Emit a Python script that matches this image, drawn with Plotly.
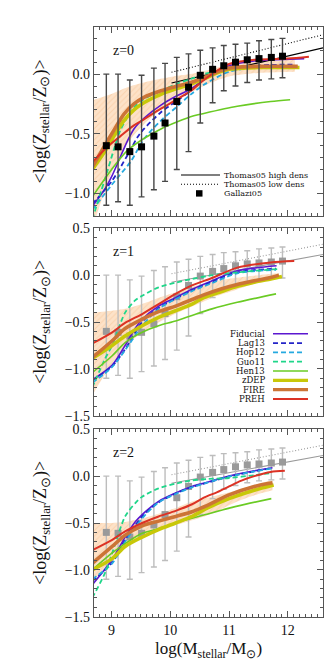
import plotly.graph_objects as go

# ---- observations ----
# Gallazzi05: median and 16/84 percentiles
gal_m = [8.91, 9.11, 9.31, 9.51, 9.72, 9.91, 10.11, 10.31, 10.51, 10.72, 10.91, 11.11, 11.31, 11.51, 11.72, 11.91]
gal_z = [-0.60, -0.61, -0.65, -0.61, -0.52, -0.41, -0.23, -0.11, -0.01, 0.04, 0.07, 0.10, 0.12, 0.13, 0.14, 0.15]
gal_lo = [-1.10, -1.07, -1.10, -1.03, -0.97, -0.90, -0.80, -0.65, -0.41, -0.24, -0.14, -0.10, -0.07, -0.05, -0.04, -0.03]
gal_hi = [0.00, 0.00, -0.05, -0.01, 0.05, 0.09, 0.14, 0.17, 0.20, 0.22, 0.24, 0.25, 0.26, 0.28, 0.29, 0.30]

# Thomas05 relations
tho_m = [10.02, 12.6]
tho_high = [-0.075, 0.22]
tho_low = [0.015, 0.33]

# ---- models, z=0 ----
fid0_m = [8.67, 8.89, 9.0, 9.27, 9.38, 9.55, 9.84, 10.12, 10.35, 10.57, 10.8, 11.0, 11.43, 11.8, 12.28]
fid0_z = [-1.11, -0.96, -0.86, -0.56, -0.46, -0.37, -0.26, -0.18, -0.125, -0.05, 0.02, 0.07, 0.11, 0.12, 0.13]
lag0_m = [8.67, 9.0, 9.27, 9.44, 9.55, 9.84, 10.12, 10.35, 10.57, 11.0, 11.43, 11.8, 12.08]
lag0_z = [-1.09, -0.9, -0.68, -0.53, -0.46, -0.32, -0.22, -0.14, -0.045, 0.045, 0.07, 0.078, 0.08]
hop0_m = [8.67, 9.0, 9.33, 9.55, 9.84, 10.12, 10.35, 10.57, 11.0, 11.43, 11.95]
hop0_z = [-1.14, -0.93, -0.73, -0.545, -0.39, -0.27, -0.17, -0.09, 0.02, 0.053, 0.06]
guo0_m = [8.67, 8.93, 9.04, 9.15, 9.27, 9.38, 9.55, 9.84, 10.12, 10.35, 10.57, 11.0, 11.5, 12.0]
guo0_z = [-1.22, -0.81, -0.63, -0.47, -0.36, -0.28, -0.21, -0.14, -0.08, -0.04, 0.0, 0.04, 0.055, 0.06]
hen0_m = [8.67, 9.0, 9.27, 9.55, 9.84, 10.12, 10.4, 10.57, 11.14, 11.71, 12.04]
hen0_z = [-1.03, -0.8, -0.64, -0.54, -0.46, -0.4, -0.35, -0.33, -0.27, -0.23, -0.215]
zdep0_m = [8.67, 8.87, 9.04, 9.21, 9.38, 9.55, 9.84, 10.12, 10.35, 10.57, 10.8, 11.0, 11.5, 12.2]
zdep0_z = [-0.8, -0.66, -0.52, -0.39, -0.30, -0.24, -0.17, -0.12, -0.084, -0.04, 0.01, 0.04, 0.055, 0.055]
fire0_m = [8.67, 8.87, 9.04, 9.21, 9.38, 9.55, 9.84, 10.12, 10.35, 10.57, 10.8, 11.0, 11.5, 12.17]
fire0_z = [-0.78, -0.61, -0.47, -0.335, -0.25, -0.195, -0.14, -0.1, -0.07, -0.03, 0.02, 0.05, 0.065, 0.065]
preh0_m = [8.67, 8.93, 9.15, 9.38, 9.55, 9.84, 10.12, 10.35, 10.57, 10.8, 11.0, 11.43, 12.0, 12.36]
preh0_z = [-0.74, -0.61, -0.52, -0.43, -0.38, -0.29, -0.21, -0.14, -0.05, 0.03, 0.085, 0.12, 0.13, 0.145]
band0_m = [8.67, 8.98, 9.27, 9.55, 9.84, 10.12, 10.4, 10.7, 11.0, 11.5, 12.12]
band0_hi = [-0.22, -0.17, -0.11, -0.07, -0.04, -0.014, 0.006, 0.04, 0.08, 0.11, 0.12]
band0_lo = [-1.3, -0.85, -0.58, -0.42, -0.3, -0.21, -0.14, -0.07, -0.02, 0.01, 0.02]

# ---- models, z=1 ----
fid1_m = [8.67, 9.01, 9.23, 9.4, 9.52, 9.8, 10.09, 10.37, 10.71, 11.14, 11.81]
fid1_z = [-1.12, -0.96, -0.75, -0.57, -0.47, -0.33, -0.24, -0.15, -0.06, 0.046, 0.1]
lag1_m = [8.67, 9.01, 9.23, 9.52, 9.8, 10.09, 10.37, 10.71, 11.14, 11.8]
lag1_z = [-1.12, -0.97, -0.79, -0.5, -0.35, -0.25, -0.16, -0.07, 0.03, 0.07]
hop1_m = [8.67, 9.01, 9.23, 9.52, 9.8, 10.09, 10.37, 10.71, 11.14, 11.8]
hop1_z = [-1.15, -0.98, -0.8, -0.54, -0.36, -0.255, -0.17, -0.085, 0.02, 0.057]
guo1_m = [8.67, 8.89, 9.01, 9.23, 9.4, 9.52, 9.8, 10.09, 10.37, 10.65, 11.14, 11.82]
guo1_z = [-1.2, -0.89, -0.75, -0.4, -0.27, -0.22, -0.13, -0.08, -0.04, -0.007, 0.03, 0.065]
hen1_m = [8.67, 9.01, 9.23, 9.52, 9.8, 10.09, 10.37, 10.71, 11.14, 11.8]
hen1_z = [-1.04, -0.86, -0.72, -0.61, -0.54, -0.49, -0.43, -0.36, -0.29, -0.2]
zdep1_m = [8.67, 9.01, 9.23, 9.52, 9.8, 10.09, 10.37, 10.57, 10.85, 11.14, 11.43, 11.71, 11.9]
zdep1_z = [-0.89, -0.75, -0.65, -0.54, -0.45, -0.38, -0.31, -0.24, -0.18, -0.12, -0.075, -0.04, -0.015]
fire1_m = [8.67, 9.01, 9.23, 9.52, 9.8, 10.09, 10.37, 10.57, 10.85, 11.14, 11.43, 11.71, 11.85]
fire1_z = [-0.88, -0.70, -0.57, -0.47, -0.39, -0.33, -0.26, -0.21, -0.15, -0.1, -0.06, -0.025, 0.0]
preh1_m = [8.67, 9.01, 9.23, 9.52, 9.8, 10.09, 10.37, 10.71, 11.14, 11.71, 12.11]
preh1_z = [-0.73, -0.61, -0.51, -0.415, -0.31, -0.2, -0.11, -0.03, 0.08, 0.135, 0.15]
band1_m = [8.67, 9.0, 9.3, 9.6, 9.9, 10.2, 10.5, 10.8, 11.1, 11.5, 11.85]
band1_hi = [-0.4, -0.38, -0.35, -0.29, -0.22, -0.16, -0.1, -0.06, -0.03, 0.0, 0.02]
band1_lo = [-1.28, -0.95, -0.72, -0.58, -0.47, -0.38, -0.3, -0.22, -0.16, -0.08, -0.04]

# ---- models, z=2 ----
fid2_m = [8.67, 9.01, 9.23, 9.4, 9.52, 9.8, 10.09, 10.37, 10.6, 11.0, 11.43, 11.74]
fid2_z = [-1.16, -0.89, -0.65, -0.49, -0.41, -0.27, -0.18, -0.11, -0.07, 0.0, 0.057, 0.09]
lag2_m = [8.67, 9.01, 9.23, 9.52, 9.8, 10.09, 10.37, 10.6, 11.0, 11.43, 11.72]
lag2_z = [-1.12, -0.92, -0.68, -0.43, -0.28, -0.185, -0.115, -0.075, -0.005, 0.05, 0.085]
hop2_m = [8.67, 9.01, 9.23, 9.52, 9.8, 10.09, 10.37, 10.6, 11.0, 11.43, 11.72]
hop2_z = [-1.1, -0.93, -0.70, -0.45, -0.28, -0.19, -0.12, -0.075, -0.005, 0.05, 0.08]
guo2_m = [8.67, 8.89, 9.01, 9.23, 9.4, 9.52, 9.8, 10.09, 10.37, 10.65, 11.0, 11.43, 11.74]
guo2_z = [-1.3, -1.03, -0.82, -0.43, -0.29, -0.22, -0.13, -0.08, -0.045, -0.03, -0.02, 0.01, 0.035]
hen2_m = [8.67, 9.01, 9.23, 9.52, 9.8, 10.09, 10.37, 10.6, 11.14, 11.72]
hen2_z = [-1.0, -0.82, -0.72, -0.61, -0.56, -0.5, -0.45, -0.41, -0.32, -0.24]
zdep2_m = [8.67, 9.01, 9.23, 9.52, 9.8, 10.09, 10.37, 10.6, 11.0, 11.43, 11.76]
zdep2_z = [-1.0, -0.88, -0.75, -0.65, -0.57, -0.5, -0.43, -0.35, -0.24, -0.15, -0.095]
fire2_m = [8.67, 9.01, 9.23, 9.52, 9.8, 10.09, 10.37, 10.6, 11.0, 11.43, 11.74]
fire2_z = [-0.93, -0.75, -0.63, -0.53, -0.48, -0.43, -0.38, -0.32, -0.2, -0.11, -0.07]
preh2_m = [8.67, 9.01, 9.23, 9.52, 9.8, 10.09, 10.37, 10.57, 10.8, 11.0, 11.2, 11.43, 11.71, 11.95]
preh2_z = [-0.79, -0.68, -0.59, -0.5, -0.43, -0.37, -0.3, -0.23, -0.17, -0.11, -0.05, 0.0, 0.045, 0.057]
band2_m = [8.67, 9.0, 9.23, 9.52, 9.8, 10.09, 10.37, 10.7, 11.14, 11.5, 11.74]
band2_hi = [-0.5, -0.5, -0.49, -0.45, -0.4, -0.34, -0.27, -0.22, -0.15, -0.08, -0.04]
band2_lo = [-1.14, -0.89, -0.75, -0.65, -0.57, -0.52, -0.47, -0.4, -0.27, -0.19, -0.15]

model_names = ["Fiducial", "Lag13", "Hop12", "Guo11", "Hen13", "zDEP", "FIRE", "PREH"]

# styles: color, width, dash
style = {
    "Fiducial": ("#5b17d0", 1.6, "solid"),
    "Lag13": ("#2424c8", 1.8, "5px,3px"),
    "Hop12": ("#25a9e0", 1.8, "5px,3px"),
    "Guo11": ("#1fd68a", 1.8, "5px,3px"),
    "Hen13": ("#6acb24", 1.6, "solid"),
    "zDEP": ("#c8c808", 3.6, "solid"),
    "FIRE": ("#cc7436", 3.6, "solid"),
    "PREH": ("#dc3224", 2.0, "solid"),
}
DOT = "1px,2px"

panels = [
    {"z": "z=0", "band": (band0_m, band0_lo, band0_hi),
     "curves": [(fid0_m, fid0_z), (lag0_m, lag0_z), (hop0_m, hop0_z), (guo0_m, guo0_z),
                (hen0_m, hen0_z), (zdep0_m, zdep0_z), (fire0_m, fire0_z), (preh0_m, preh0_z)]},
    {"z": "z=1", "band": (band1_m, band1_lo, band1_hi),
     "curves": [(fid1_m, fid1_z), (lag1_m, lag1_z), (hop1_m, hop1_z), (guo1_m, guo1_z),
                (hen1_m, hen1_z), (zdep1_m, zdep1_z), (fire1_m, fire1_z), (preh1_m, preh1_z)]},
    {"z": "z=2", "band": (band2_m, band2_lo, band2_hi),
     "curves": [(fid2_m, fid2_z), (lag2_m, lag2_z), (hop2_m, hop2_z), (guo2_m, guo2_z),
                (hen2_m, hen2_z), (zdep2_m, zdep2_z), (fire2_m, fire2_z), (preh2_m, preh2_z)]},
]

W, H = 332, 664
L, R, T, B = 86, 315, 19, 609   # plot area in pixels
panel_px = [(19, 208), (220, 408), (421, 609)]
yranges = [[-1.19, 0.395], [-1.503, 0.503], [-1.503, 0.503]]

def px(xp):
    return (xp - L) / (R - L)

def py(yp):
    return (B - yp) / (B - T)

SERIF = "Liberation Serif"
LEG = "DejaVu Serif"

fig = go.Figure()

def add_gallazzi(ax, ay, dark):
    sq = "black" if dark else "#9a9a9a"
    bar = "#484848" if dark else "#bdbdbd"
    fig.add_trace(go.Scatter(
        x=gal_m, y=gal_z, mode="markers", xaxis=ax, yaxis=ay, showlegend=False,
        marker=dict(symbol="square", size=7, color=sq),
        error_y=dict(type="data", symmetric=False,
                     array=[h - m for h, m in zip(gal_hi, gal_z)],
                     arrayminus=[m - l for m, l in zip(gal_z, gal_lo)],
                     color=bar, thickness=1.4, width=3)))

for i, p in enumerate(panels):
    ax = "x" if i == 0 else "x%d" % (i + 1)
    ay = "y" if i == 0 else "y%d" % (i + 1)
    bm, blo, bhi = p["band"]
    fig.add_trace(go.Scatter(x=bm, y=blo, xaxis=ax, yaxis=ay, mode="lines",
                             line=dict(width=0, shape="spline", smoothing=0.8),
                             showlegend=False, hoverinfo="skip"))
    fig.add_trace(go.Scatter(x=bm, y=bhi, xaxis=ax, yaxis=ay, mode="lines",
                             line=dict(width=0, shape="spline", smoothing=0.8),
                             fill="tonexty", fillcolor="#fddcbf",
                             fillpattern=dict(shape="/", fgcolor="#f7c292", bgcolor="#fde2c8",
                                              size=4, solidity=0.25),
                             showlegend=False, hoverinfo="skip"))
    tcol = "black" if i == 0 else "#9a9a9a"
    fig.add_trace(go.Scatter(x=tho_m, y=tho_high, xaxis=ax, yaxis=ay, mode="lines",
                             line=dict(color=tcol, width=1.1), showlegend=False))
    fig.add_trace(go.Scatter(x=tho_m, y=tho_low, xaxis=ax, yaxis=ay, mode="lines",
                             line=dict(color=tcol, width=1.1, dash=DOT), showlegend=False))
    if i > 0:
        add_gallazzi(ax, ay, False)
    for name, (cm, cz) in zip(model_names, p["curves"]):
        col, wid, dash = style[name]
        fig.add_trace(go.Scatter(x=cm, y=cz, xaxis=ax, yaxis=ay, mode="lines", name=name,
                                 line=dict(color=col, width=wid, dash=dash,
                                           shape="spline", smoothing=0.8),
                                 showlegend=False))
    if i == 0:
        add_gallazzi(ax, ay, True)

axis_common = dict(
    showline=True, linecolor="#555555", linewidth=1.2, mirror="allticks",
    ticks="inside", ticklen=6, tickwidth=1, tickcolor="#555555",
    minor=dict(ticks="inside", ticklen=3, tickcolor="#555555", tickwidth=1),
    showgrid=False, zeroline=False,
    tickfont=dict(family=SERIF, size=14, color="#111111"),
)

layout = dict(
    width=W, height=H, plot_bgcolor="white", paper_bgcolor="white",
    margin=dict(l=L, r=W - R, t=T, b=H - B), showlegend=False,
)
for i in range(3):
    sfx = "" if i == 0 else str(i + 1)
    top, bot = panel_px[i]
    layout["xaxis" + sfx] = dict(axis_common, range=[8.7, 12.6], tickvals=[9, 10, 11, 12],
                                 minor=dict(axis_common["minor"], dtick=0.1),
                                 showticklabels=(i == 2),
                                 anchor="y" + sfx, domain=[0, 1])
    if i > 0:
        layout["xaxis" + sfx]["matches"] = "x"
    layout["yaxis" + sfx] = dict(axis_common, range=yranges[i], dtick=0.5, tick0=0,
                                 tickformat=".1f",
                                 minor=dict(axis_common["minor"], dtick=0.1),
                                 anchor="x" + sfx, domain=[py(bot), py(top)])
fig.update_layout(**layout)

ann = []
shapes = []
ytitle = "&lt;log(Z<sub>stellar</sub>/Z<sub>⊙</sub>)&gt;"
for i, p in enumerate(panels):
    top, bot = panel_px[i]
    ann.append(dict(text=p["z"], xref="paper", yref="paper", x=px(103), y=py(top + 23),
                    xanchor="left", yanchor="middle", showarrow=False,
                    font=dict(family=SERIF, size=14, color="#111111")))
    ann.append(dict(text=ytitle, xref="paper", yref="paper", x=px(33), y=py((top + bot) / 2),
                    xanchor="center", yanchor="middle", textangle=-90, showarrow=False,
                    font=dict(family=SERIF, size=18, color="#111111")))
ann.append(dict(text="log(M<sub>stellar</sub>/M<sub>⊙</sub>)", xref="paper", yref="paper",
                x=px(200), y=py(642), xanchor="center", yanchor="middle", showarrow=False,
                font=dict(family=SERIF, size=17, color="#111111")))

# legend, panel 1 (observations)
obs_leg = [("Thomas05 high dens", "solid"), ("Thomas05 low dens", DOT), ("Gallazi05", "square")]
for k, (lab, kind) in enumerate(obs_leg):
    yy = 167 + 9.2 * k
    if kind == "square":
        shapes.append(dict(type="rect", xref="paper", yref="paper",
                           x0=px(188), x1=px(194.5), y0=py(yy + 3.2), y1=py(yy - 3.2),
                           fillcolor="black", line=dict(width=0)))
    else:
        shapes.append(dict(type="line", xref="paper", yref="paper",
                           x0=px(173), x1=px(212), y0=py(yy), y1=py(yy),
                           line=dict(color="black", width=1.1, dash=kind)))
    ann.append(dict(text=lab, xref="paper", yref="paper", x=px(214), y=py(yy),
                    xanchor="left", yanchor="middle", showarrow=False,
                    font=dict(family=LEG, size=8, color="#111111")))

# legend, panel 2 (models)
for k, name in enumerate(model_names):
    yy = 325.7 + 9.33 * k
    col, wid, dash = style[name]
    shapes.append(dict(type="line", xref="paper", yref="paper",
                       x0=px(265), x1=px(300 if dash == "solid" else 296), y0=py(yy), y1=py(yy),
                       line=dict(color=col, width=wid if wid < 3 else 3.2, dash=dash)))
    ann.append(dict(text=name, xref="paper", yref="paper", x=px(259), y=py(yy),
                    xanchor="right", yanchor="middle", showarrow=False,
                    font=dict(family=LEG, size=8.5, color="#111111")))

fig.update_layout(annotations=ann, shapes=shapes)
fig.write_html("out.html")
